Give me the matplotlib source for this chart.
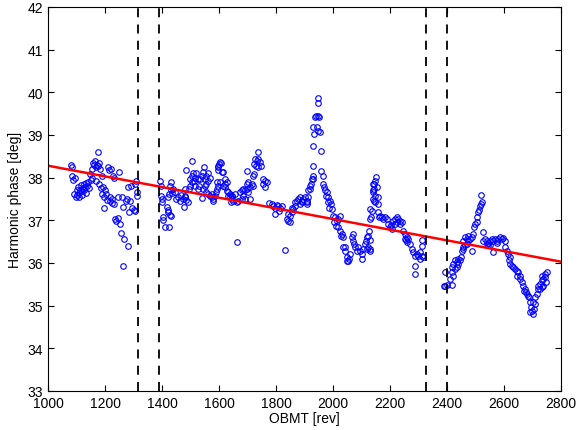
import matplotlib
matplotlib.use('Agg')
import matplotlib.pyplot as plt
import numpy as np

plt.rcParams['font.family'] = ['Liberation Sans', 'DejaVu Sans']

pts = [
    (1080,38.30),(1083,38.25),(1085,38.03),(1088,37.95),(1092,37.62),(1095,38.00),(1098,37.55),(1100,37.70),
    (1103,37.60),(1105,37.78),(1108,37.65),(1110,37.55),(1112,37.72),(1115,37.82),(1118,37.68),(1120,37.60),
    (1122,37.75),(1125,37.85),(1128,37.70),(1130,37.78),(1133,37.88),(1135,37.65),(1138,37.80),(1140,37.90),
    (1143,37.75),(1147,38.09),(1150,37.95),(1153,38.00),(1156,38.20),(1158,38.35),(1162,38.30),(1165,38.40),
    (1168,38.25),(1170,37.92),(1172,38.30),(1174,38.59),(1176,38.28),(1178,37.85),(1180,38.35),(1182,38.20),
    (1185,37.76),(1188,37.62),(1190,38.05),(1193,37.78),(1196,37.55),(1198,37.29),(1200,37.70),(1203,37.62),
    (1206,37.48),(1210,38.25),(1213,38.18),(1216,37.55),(1218,37.45),(1220,38.20),(1223,37.40),(1226,37.50),
    (1229,38.05),(1231,37.38),(1233,38.00),(1236,37.03),(1240,36.98),(1244,37.05),(1247,37.55),(1250,38.13),
    (1252,36.92),(1256,36.70),(1258,37.55),(1262,37.32),(1264,35.92),(1268,36.56),(1272,37.45),(1276,37.50),
    (1280,37.78),(1282,36.39),(1285,37.20),(1288,37.45),(1292,37.80),(1295,37.30),(1300,37.25),(1304,37.22),
    (1307,37.85),(1310,37.92),(1312,37.66),(1314,37.57),
    (1393,37.93),(1395,37.81),(1397,37.58),(1399,37.50),(1400,37.43),(1402,37.08),(1404,37.00),(1410,36.84),
    (1417,37.31),(1420,37.25),(1422,37.20),(1425,36.84),(1428,37.12),(1430,37.10),(1421,37.55),(1424,37.62),
    (1427,37.80),(1430,37.90),(1433,37.72),(1436,37.65),(1440,37.73),(1445,37.66),(1448,37.50),(1455,37.55),
    (1462,37.45),(1468,37.60),(1472,37.50),(1478,37.31),(1480,37.55),
    (1481,37.73),(1481,37.58),(1485,37.47),(1492,37.44),(1485,38.17),(1504,38.40),(1498,37.97),(1504,38.05),
    (1510,38.10),(1516,38.00),(1521,38.10),(1527,37.98),(1514,37.93),(1504,37.89),(1498,37.81),(1494,37.73),
    (1516,37.81),(1525,37.73),(1530,37.81),(1533,37.97),(1539,38.05),(1545,38.13),(1549,38.25),(1541,37.52),
    (1551,37.97),(1556,38.05),(1562,38.10),(1568,38.00),(1562,37.93),(1556,37.85),(1551,37.81),(1545,37.73),
    (1556,37.66),(1562,37.62),(1568,37.58),(1574,37.54),(1580,37.50),(1580,37.46),(1574,37.62),(1586,37.58),
    (1588,37.66),(1592,37.73),(1598,37.81),(1603,37.89),(1592,37.89),(1595,38.17),(1598,38.25),(1600,38.32),
    (1603,38.36),(1607,38.34),(1598,38.28),(1609,38.13),(1615,38.13),(1621,37.97),(1627,37.89),(1621,37.85),
    (1615,37.81),(1621,37.77),(1627,37.69),(1633,37.66),(1639,37.62),(1645,37.58),(1647,37.50),(1650,37.46),
    (1642,37.42),(1639,37.54),(1630,37.58),
    (1644,37.58),(1656,37.62),(1662,37.42),(1662,36.49),(1674,37.66),(1680,37.70),(1685,37.73),(1691,37.70),
    (1697,37.73),(1703,37.66),(1709,37.77),(1715,37.85),(1718,37.81),(1709,37.50),(1685,37.58),(1680,37.50),
    (1668,37.46),(1691,37.50),(1703,37.89),(1697,37.85),(1699,38.16),(1720,38.05),(1723,38.09),(1723,38.32),
    (1726,38.44),(1732,38.40),(1738,38.44),(1744,38.36),(1730,38.28),(1738,38.24),(1747,38.28),(1736,38.59),
    (1755,37.97),(1761,37.93),(1767,37.89),(1755,37.85),(1761,37.77),(1777,37.41),(1785,37.38),(1791,37.34),
    (1796,37.30),(1802,37.36),(1808,37.33),(1814,37.30),(1820,37.34),(1812,37.23),(1796,37.15),(1832,36.30),
    (1837,37.03),(1843,36.99),(1849,36.95),(1849,37.11),(1855,37.19),(1861,37.27),(1867,37.34),(1855,37.30),
    (1843,37.15),(1873,37.46),(1867,37.42),(1878,37.50),(1884,37.54),(1890,37.42),(1896,37.50),(1902,37.54),
    (1908,37.46),(1913,37.54),(1910,37.38),(1884,37.38),(1919,37.73),(1923,37.85),(1925,37.97),(1929,38.05),
    (1929,38.28),(1890,37.46),(1908,37.42),(1914,37.70),(1919,37.81),(1931,37.97),
    (1931,38.75),(1931,39.18),(1935,39.02),(1937,39.41),(1940,39.45),(1943,39.18),(1949,39.45),(1952,39.43),
    (1955,39.06),(1949,39.10),(1949,39.87),(1946,39.74),(1957,38.63),(1958,38.16),(1964,38.05),(1966,37.85),
    (1969,37.77),(1972,37.70),(1978,37.66),(1976,37.58),(1984,37.54),(1990,37.46),(1984,37.42),(1992,37.38),
    (1987,37.30),(1995,37.27),(2001,37.11),(2007,37.07),(2013,36.99),(2019,37.03),(2025,37.11),(2005,36.95),
    (2011,36.87),(2019,36.84),(2025,36.76),(2031,36.68),(2034,36.60),(2027,36.64),(2036,36.37),(2042,36.29),
    (2048,36.13),(2054,36.05),(2057,36.09),(2048,36.05),(2060,36.21),(2042,36.37),(2066,36.60),(2069,36.68),
    (2071,36.52),(2075,36.44),(2077,36.37),(2083,36.29),(2089,36.37),(2095,36.29),(2101,36.21),(2104,36.33),
    (2101,36.09),(2112,36.45),(2116,36.52),(2118,36.60),(2124,36.64),(2128,36.76),(2130,36.29),(2124,36.37),
    (2118,36.33),(2132,37.07),(2136,37.23),(2139,37.50),(2142,37.70),(2144,37.85),(2148,37.93),(2151,38.01),
    (2156,37.77),(2159,37.54),(2159,37.38),
    (2142,37.85),(2144,37.74),(2142,37.66),(2147,37.58),(2144,37.46),(2147,37.42),(2130,37.27),(2130,37.03),
    (2130,36.53),(2130,36.33),(2159,37.19),(2165,37.11),(2171,37.07),(2177,37.03),(2183,37.07),(2188,37.03),
    (2163,37.07),(2194,36.91),(2200,36.84),(2206,36.80),(2202,36.88),(2212,36.99),(2218,37.03),(2224,37.07),
    (2229,37.03),(2235,36.99),(2241,36.95),(2224,36.95),(2235,36.91),(2218,36.91),(2247,36.76),(2253,36.68),
    (2259,36.60),(2256,36.53),(2264,36.56),(2261,36.49),(2253,36.56),(2270,36.45),(2276,36.33),(2282,36.25),
    (2294,36.21),(2300,36.17),(2305,36.25),(2311,36.17),(2317,36.13),(2305,36.09),(2288,36.17),(2286,35.74),
    (2288,35.94),(2311,36.53),(2314,36.39),(2393,35.78),(2393,35.47),(2401,35.49),
    (2390,35.47),(2416,35.78),(2411,35.63),(2416,35.49),(2422,35.70),(2416,35.90),(2422,35.98),(2428,36.06),
    (2434,36.02),(2440,36.10),(2446,36.06),(2434,35.90),(2428,35.86),(2440,35.98),(2448,36.13),(2452,36.29),
    (2457,36.37),(2463,36.41),(2469,36.45),(2475,36.52),(2481,36.56),(2487,36.60),(2469,36.56),(2457,36.52),
    (2463,36.60),(2475,36.64),(2487,36.29),(2455,36.33),(2492,36.68),(2495,36.84),(2498,36.91),(2504,36.95),
    (2506,37.07),(2510,37.19),(2514,37.25),(2516,37.34),(2518,37.38),(2522,37.42),(2519,37.60),(2528,36.72),
    (2528,36.52),(2533,36.56),(2539,36.52),(2545,36.48),(2551,36.52),(2557,36.56),(2563,36.52),(2568,36.56),
    (2574,36.52),(2580,36.56),(2586,36.60),(2592,36.56),(2598,36.58),(2604,36.52),(2539,36.45),(2551,36.41),
    (2563,36.25),(2545,36.41),(2574,36.48),(2604,36.37),(2609,36.29),(2615,36.21),(2621,36.13),(2619,36.06),
    (2621,35.98),(2627,35.94),(2633,35.90),(2639,35.86),(2645,35.82),(2650,35.78),(2647,35.70),(2656,35.70),
    (2656,35.63),(2662,35.55),(2668,35.47),(2674,35.39),(2670,35.35),(2677,35.31),(2680,35.27),(2685,35.23),
    (2689,35.20),(2691,35.08),(2694,34.96),(2697,34.88),(2691,34.84),(2701,34.81),(2705,34.92),(2709,35.04),
    (2703,35.08),(2709,35.20),(2715,35.27),(2718,35.39),(2720,35.47),(2726,35.51),(2732,35.59),(2738,35.63),
    (2744,35.66),(2747,35.55),(2732,35.43),(2726,35.39),(2738,35.47),(2732,35.70),(2744,35.74),(2750,35.78),
]
obmt = [p[0] for p in pts]
phase = [p[1] for p in pts]

# linear trend
trend_x = [1000, 2800]
trend_y = [38.28, 36.03]

# boundaries
vlines = [1316, 1389, 2326, 2401]

fig = plt.figure(figsize=(5.84, 4.31), dpi=100)
ax = fig.add_axes([0.0822, 0.0905, 0.8784, 0.891])

ax.plot(obmt, phase, 'o', linestyle='none', markerfacecolor='none',
        markeredgecolor='blue', markersize=4, markeredgewidth=0.8)
ax.plot(trend_x, trend_y, color='red', linewidth=1.8)
for v in vlines:
    ax.axvline(v, color='black', linestyle=(0, (5, 4)), linewidth=1.3)

ax.set_xlim(1000, 2800)
ax.set_ylim(33, 42)
ax.set_xticks(np.arange(1000, 2801, 200))
ax.set_yticks(np.arange(33, 43, 1))
ax.tick_params(direction='in', top=True, right=True, labelsize=10, length=4)
ax.set_xlabel('OBMT [rev]', fontsize=10, labelpad=1)
ax.set_ylabel('Harmonic phase [deg]', fontsize=10, labelpad=4)

fig.savefig('out.png', dpi=100)
